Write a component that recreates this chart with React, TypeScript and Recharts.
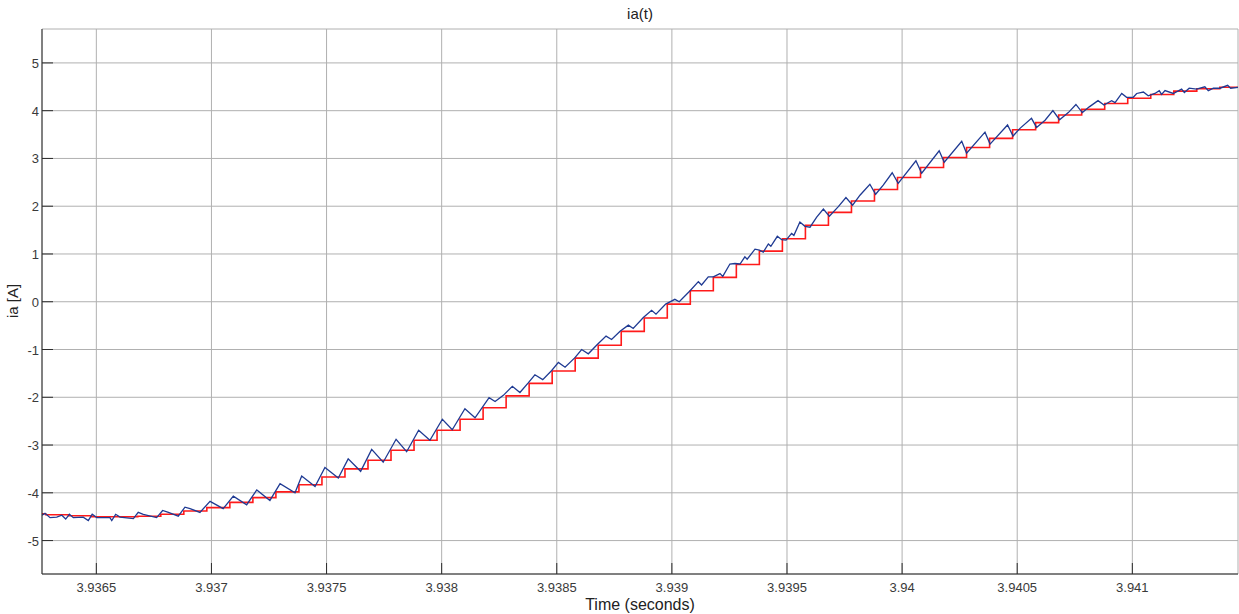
import { LineChart, Line, XAxis, YAxis, CartesianGrid } from 'recharts';

// step instants of the sampled signal (first/last entries are the visible window edges)
const stepTimes = [
  3.936264, 3.93628, 3.93638, 3.93648, 3.93658, 3.93668, 3.93678, 3.93688, 3.93698, 3.93708,
  3.93718, 3.93728, 3.93738, 3.93748, 3.93758, 3.93768, 3.93778, 3.93788, 3.93798, 3.93808,
  3.93818, 3.93828, 3.93838, 3.93848, 3.93858, 3.93868, 3.93878, 3.93888, 3.93898, 3.93908,
  3.93918, 3.93928, 3.93938, 3.93948, 3.93958, 3.93968, 3.93978, 3.93988, 3.93998, 3.94008,
  3.94018, 3.94028, 3.94038, 3.94048, 3.94058, 3.94068, 3.94078, 3.94088, 3.94098, 3.94108,
  3.94118, 3.94128, 3.94138, 3.941459,
];
const sampledIa = [
  -4.44, -4.46, -4.48, -4.5, -4.5, -4.49, -4.45, -4.38, -4.31, -4.2,
  -4.1, -3.98, -3.83, -3.67, -3.5, -3.32, -3.11, -2.9, -2.69, -2.46,
  -2.22, -1.97, -1.71, -1.45, -1.18, -0.91, -0.62, -0.34, -0.05, 0.23,
  0.51, 0.78, 1.06, 1.32, 1.6, 1.87, 2.11, 2.35, 2.6, 2.81,
  3.02, 3.23, 3.42, 3.6, 3.75, 3.91, 4.03, 4.15, 4.26, 4.34,
  4.41, 4.46, 4.49, 4.49,
];

// measured current
const measTimes = [
  3.936264, 3.936277, 3.936299, 3.936328, 3.93635, 3.936367, 3.936383, 3.9364, 3.936443, 3.936465,
  3.936482, 3.936502, 3.936559, 3.936567, 3.936584, 3.936603, 3.936661, 3.936682, 3.936704, 3.936762,
  3.936788, 3.936813, 3.936856, 3.936885, 3.936907, 3.93695, 3.936994, 3.937051, 3.937095, 3.937153,
  3.937197, 3.937254, 3.937298, 3.937363, 3.937392, 3.93745, 3.937493, 3.937551, 3.937594, 3.937648,
  3.937696, 3.937746, 3.937802, 3.937848, 3.9379, 3.937949, 3.938003, 3.938046, 3.938101, 3.938145,
  3.938206, 3.938232, 3.938268, 3.938307, 3.93834, 3.938376, 3.938405, 3.938439, 3.938478, 3.938507,
  3.938536, 3.938579, 3.938608, 3.938637, 3.938675, 3.938714, 3.938738, 3.938775, 3.938811, 3.938832,
  3.938876, 3.938912, 3.938931, 3.938973, 3.939013, 3.939032, 3.939079, 3.939115, 3.939129, 3.939158,
  3.93918, 3.939209, 3.939221, 3.939252, 3.939274, 3.939296, 3.939317, 3.939327, 3.939361, 3.93938,
  3.939397, 3.939419, 3.93943, 3.939458, 3.939477, 3.939496, 3.93952, 3.93953, 3.939556, 3.939578,
  3.9396, 3.939629, 3.939658, 3.939684, 3.939723, 3.939756, 3.939785, 3.939817, 3.93986, 3.939885,
  3.939918, 3.939957, 3.939983, 3.94006, 3.940085, 3.940161, 3.940183, 3.940259, 3.94028, 3.94036,
  3.940382, 3.940458, 3.940482, 3.940512, 3.940562, 3.940584, 3.940621, 3.940655, 3.940684, 3.940722,
  3.940755, 3.940783, 3.940813, 3.940851, 3.940877, 3.94091, 3.940925, 3.940954, 3.940975, 3.941004,
  3.941019, 3.941048, 3.941069, 3.941098, 3.941117, 3.941127, 3.941142, 3.941178, 3.941214, 3.941226,
  3.941247, 3.941279, 3.941315, 3.94133, 3.941352, 3.941381, 3.941414, 3.941427, 3.941459,
];
const measIa = [
  -4.47, -4.43, -4.52, -4.51, -4.47, -4.55, -4.45, -4.52, -4.51, -4.58,
  -4.45, -4.52, -4.52, -4.58, -4.45, -4.51, -4.54, -4.41, -4.45, -4.52,
  -4.37, -4.41, -4.49, -4.3, -4.33, -4.41, -4.18, -4.33, -4.07, -4.25,
  -3.94, -4.16, -3.81, -4.0, -3.65, -3.87, -3.47, -3.69, -3.29, -3.55,
  -3.09, -3.36, -2.88, -3.14, -2.69, -2.9, -2.46, -2.68, -2.24, -2.43,
  -2.01, -2.09, -1.96, -1.77, -1.9, -1.7, -1.53, -1.63, -1.44, -1.27,
  -1.37, -1.17, -1.0, -1.09, -0.9, -0.72, -0.79, -0.62, -0.49, -0.56,
  -0.33, -0.18, -0.26, -0.05, 0.05, 0.0, 0.23, 0.42, 0.35, 0.52,
  0.52, 0.59, 0.53, 0.79, 0.8, 0.79, 0.94, 0.89, 1.1, 1.08,
  1.04, 1.21, 1.16, 1.37, 1.3, 1.29, 1.43, 1.39, 1.67, 1.58,
  1.56, 1.77, 1.94, 1.79, 1.99, 2.18, 2.02, 2.23, 2.46, 2.25,
  2.44, 2.7, 2.48, 2.95, 2.69, 3.16, 2.92, 3.36, 3.11, 3.55,
  3.3, 3.7, 3.47, 3.63, 3.84, 3.65, 3.8, 4.0, 3.81, 3.96,
  4.13, 3.96, 4.08, 4.21, 4.12, 4.21, 4.17, 4.36, 4.28, 4.28,
  4.36, 4.39, 4.31, 4.36, 4.42, 4.34, 4.42, 4.36, 4.45, 4.38,
  4.47, 4.45, 4.5, 4.42, 4.47, 4.47, 4.53, 4.47, 4.49,
];

const xTicks = [3.9365, 3.937, 3.9375, 3.938, 3.9385, 3.939, 3.9395, 3.94, 3.9405, 3.941];
const yTicks = [-5, -4, -3, -2, -1, 0, 1, 2, 3, 4, 5];

const sampledData = stepTimes.map((t, i) => ({ t, ia: sampledIa[i] }));
const measData = measTimes.map((t, i) => ({ t, ia: measIa[i] }));

const X_DOMAIN = [3.936264, 3.941459];
const Y_DOMAIN = [-5.7, 5.71];
const FONT = '"Liberation Sans", Arial, Helvetica, sans-serif';
const FRAME = '#2b2b2b';
const TICK_LEN = 11;

function BottomTick(props: any) {
  const { x, y, payload } = props;
  return (
    <g>
      <line x1={x} y1={y} x2={x} y2={y - TICK_LEN} stroke={FRAME} />
      <text x={x} y={y + 18} textAnchor="middle" fontSize={13} fill="#3a3a3a" fontFamily={FONT}>
        {payload.value}
      </text>
    </g>
  );
}

function TopTick(props: any) {
  const { x, y } = props;
  return <line x1={x} y1={y} x2={x} y2={y + TICK_LEN} stroke={FRAME} />;
}

function LeftTick(props: any) {
  const { x, y, payload } = props;
  return (
    <g>
      <line x1={x} y1={y} x2={x + TICK_LEN} y2={y} stroke={FRAME} />
      <text x={x - 3} y={y + 5} textAnchor="end" fontSize={13} fill="#3a3a3a" fontFamily={FONT}>
        {payload.value}
      </text>
    </g>
  );
}

function RightTick(props: any) {
  const { x, y } = props;
  return <line x1={x} y1={y} x2={x - TICK_LEN} y2={y} stroke={FRAME} />;
}

export default function App() {
  return (
    <div style={{ position: 'absolute', left: 0, top: 0, width: 1239, height: 614, background: '#fff', fontFamily: FONT }}>
      <LineChart width={1239} height={614} margin={{ top: 29, right: 1, bottom: 0, left: 0 }}>
        <CartesianGrid stroke="#b0b0b0" />
        <XAxis
          type="number"
          dataKey="t"
          domain={X_DOMAIN}
          allowDataOverflow
          ticks={xTicks}
          interval={0}
          height={40}
          tickSize={0}
          tickMargin={0}
          tickLine={false}
          axisLine={{ stroke: FRAME }}
          tick={<BottomTick />}
        />
        <XAxis
          xAxisId="top"
          orientation="top"
          type="number"
          dataKey="t"
          domain={X_DOMAIN}
          allowDataOverflow
          ticks={xTicks}
          interval={0}
          height={0}
          tickSize={0}
          tickMargin={0}
          tickLine={false}
          axisLine={{ stroke: FRAME }}
          tick={<TopTick />}
        />
        <YAxis
          type="number"
          domain={Y_DOMAIN}
          allowDataOverflow
          ticks={yTicks}
          interval={0}
          width={42}
          tickSize={0}
          tickMargin={0}
          tickLine={false}
          axisLine={{ stroke: FRAME }}
          tick={<LeftTick />}
        />
        <YAxis
          yAxisId="right"
          orientation="right"
          type="number"
          domain={Y_DOMAIN}
          allowDataOverflow
          ticks={yTicks}
          interval={0}
          width={0}
          tickSize={0}
          tickMargin={0}
          tickLine={false}
          axisLine={{ stroke: FRAME }}
          tick={<RightTick />}
        />
        <Line
          data={sampledData}
          dataKey="ia"
          type="stepAfter"
          stroke="#ff1a1a"
          strokeWidth={1.6}
          dot={false}
          isAnimationActive={false}
        />
        <Line
          data={measData}
          dataKey="ia"
          type="linear"
          stroke="#1f3a93"
          strokeWidth={1.3}
          dot={false}
          isAnimationActive={false}
        />
      </LineChart>
      <div style={{ position: 'absolute', left: 42, width: 1196, top: 5, textAlign: 'center', fontSize: 15, color: '#222', lineHeight: '18px' }}>
        ia(t)
      </div>
      <div style={{ position: 'absolute', left: 42, width: 1196, top: 595, textAlign: 'center', fontSize: 16, color: '#222', lineHeight: '19px' }}>
        Time (seconds)
      </div>
      <div
        style={{
          position: 'absolute',
          left: 13,
          top: 301,
          transform: 'translate(-50%, -50%) rotate(-90deg)',
          fontSize: 15,
          color: '#222',
          whiteSpace: 'nowrap',
          lineHeight: '18px',
        }}
      >
        ia [A]
      </div>
    </div>
  );
}
